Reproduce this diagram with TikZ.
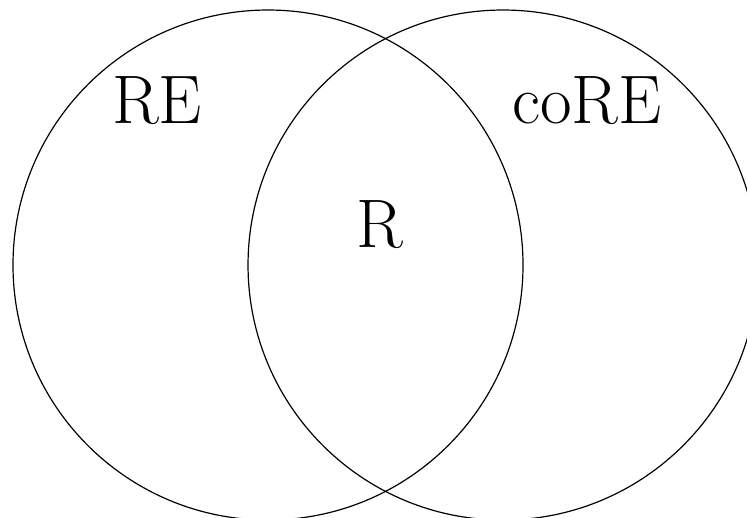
\documentclass[tikz,border=0pt]{standalone}
\usepackage{amsmath, amssymb}
\usepackage{tikz}
\usetikzlibrary{positioning}

\begin{document}
\begin{tikzpicture}
        \useasboundingbox (-3.153,-2.976) rectangle (5.635,3.118);
        \clip (-3.153,-2.976) rectangle (5.635,3.118);

        % Centres of the two sets
        \coordinate (l) at (0,0);
        \coordinate (r) at (2.765,0);

        % The two sets
        \draw (l) circle (3cm);
        \draw (r) circle (3cm);

        % Labels
        \node[font=\fontsize{23}{28}\selectfont] (re)   at (-1.306,1.93) {RE};
        \node[font=\fontsize{23}{28}\selectfont] (core) at (3.753,1.93)  {coRE};
        \node[font=\fontsize{23}{28}\selectfont] (rec)  at (1.312,0.48)  {R};
\end{tikzpicture}
\end{document}
